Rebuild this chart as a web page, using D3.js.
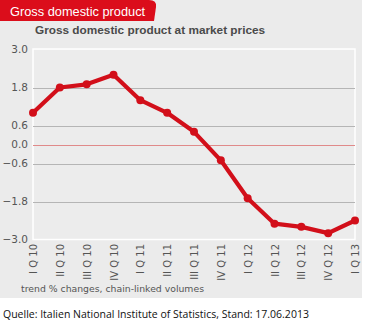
<!DOCTYPE html>
<html><head><meta charset="utf-8">
<script src="https://cdn.jsdelivr.net/npm/d3@7"></script>
<style>html,body{margin:0;padding:0;background:#fff;}svg{display:block;}</style>
</head><body>
<script>
const categories = ["I Q 10","II Q 10","III Q 10","IV Q 10","I Q 11","II Q 11","III Q 11","IV Q 11","I Q 12","II Q 12","III Q 12","IV Q 12","I Q 13"];
const values = [1.0, 1.8, 1.9, 2.2, 1.4, 1.0, 0.4, -0.5, -1.7, -2.5, -2.6, -2.8, -2.4];
const yTicks = [3.0, 1.8, 0.6, 0.0, -0.6, -1.8, -3.0];
const headerTitle = "Gross domestic product";
const chartTitle = "Gross domestic product at market prices";
const footnote = "trend % changes, chain-linked volumes";
const source = "Quelle: Italien National Institute of Statistics, Stand: 17.06.2013";

const W = 365, H = 325;
const svg = d3.select("body").append("svg").attr("width", W).attr("height", H);

svg.append("rect").attr("x",0).attr("y",0).attr("width",362).attr("height",298).attr("fill","#ebebeb");

svg.append("path").attr("d","M0,0 H149 Q157,0 156,7 L154,21 H0 Z").attr("fill","#db0d1b");
svg.append("text").attr("x",10).attr("y",15.5).attr("fill","#fff")
  .style("font-family","Arial, 'Liberation Sans', sans-serif").style("font-size","12.8px").text(headerTitle);

svg.append("text").attr("x",35).attr("y",34).attr("fill","#4a4a4a")
  .style("font-family","Arial, 'Liberation Sans', sans-serif").style("font-size","11.8px").style("font-weight","bold").text(chartTitle);

const x = d3.scalePoint().domain(categories).range([33, 355]);
const y = d3.scaleLinear().domain([-3, 3]).range([239.5, 49.5]);

// plot border
svg.append("rect").attr("x",33).attr("y",49).attr("width",322).attr("height",190.5)
  .attr("fill","#ececec").attr("stroke","#fff").attr("stroke-width",1.5);

// gridlines
const gridVals = yTicks.filter(v => v !== 3 && v !== -3);
svg.append("g").selectAll("line").data(gridVals).join("line")
  .attr("x1",33).attr("x2",355)
  .attr("y1", d => Math.round(y(d))+0.5).attr("y2", d => Math.round(y(d))+0.5)
  .attr("stroke", d => d === 0 ? "#e08a8a" : "#b5b5b5").attr("stroke-width",1);

// y axis labels
const yAxis = d3.axisLeft(y).tickValues(yTicks).tickFormat(d3.format(".1f")).tickSize(0).tickPadding(6);
const gy = svg.append("g").attr("transform","translate(30,0)").call(yAxis);
gy.select(".domain").remove();
gy.selectAll("text").attr("fill","#555").style("font-family","Verdana, 'DejaVu Sans', sans-serif").style("font-size","10.5px")
  .attr("x",-2);

// x axis labels
const xAxis = d3.axisBottom(x).tickSize(0).tickPadding(0);
const gx = svg.append("g").attr("transform","translate(0,244)").call(xAxis);
gx.select(".domain").remove();
gx.selectAll("text").attr("fill","#555").style("font-family","Verdana, 'DejaVu Sans', sans-serif").style("font-size","10px")
  .attr("transform","rotate(-90)").attr("text-anchor","end").attr("x",0).attr("y",0).attr("dy","0.35em");

// line
const line = d3.line().x((d,i) => x(categories[i])).y(d => y(d));
svg.append("path").datum(values).attr("d", line).attr("fill","none")
  .attr("stroke","#d20f1a").attr("stroke-width",4.2).attr("stroke-linejoin","round");
svg.append("g").selectAll("circle").data(values).join("circle")
  .attr("cx",(d,i) => x(categories[i])).attr("cy", d => y(d)).attr("r",4).attr("fill","#d20f1a");

svg.append("text").attr("x",21).attr("y",292).attr("fill","#555")
  .style("font-family","Verdana, 'DejaVu Sans', sans-serif").style("font-size","9.3px").text(footnote);

svg.append("text").attr("x",3).attr("y",318).attr("fill","#111")
  .style("font-family","'Open Sans', 'Noto Sans', sans-serif").style("font-size","10.5px").text(source);
</script>
</body></html>
